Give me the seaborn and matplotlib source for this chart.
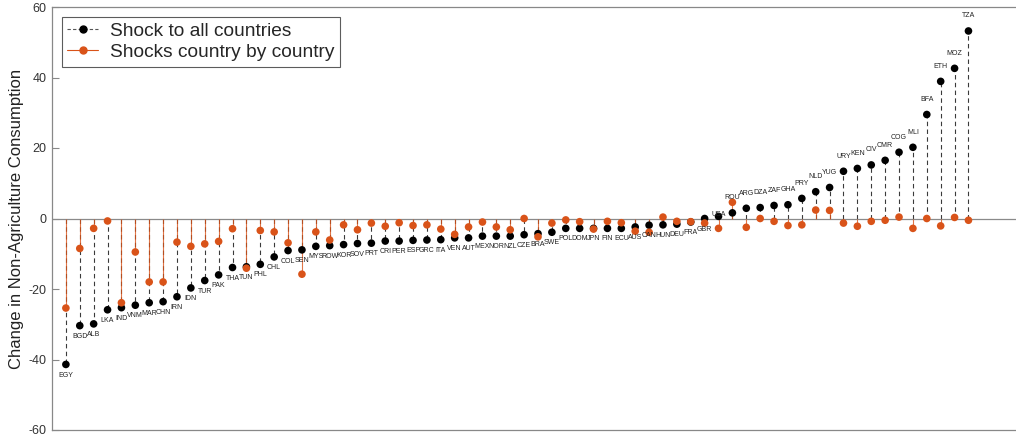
import numpy as np
import pandas as pd
import matplotlib
matplotlib.use("Agg")
import matplotlib.pyplot as plt
import seaborn as sns
from matplotlib.lines import Line2D
from matplotlib.legend_handler import HandlerLine2D

# countries sorted by the effect of the common shock
countries = ["EGY", "BGD", "ALB", "LKA", "IND", "VNM", "MAR", "CHN", "IRN", "IDN",
             "TUR", "PAK", "THA", "TUN", "PHL", "CHL", "COL", "SEN", "MYS", "ROW",
             "KOR", "SOV", "PRT", "CRI", "PER", "ESP", "GRC", "ITA", "VEN", "AUT",
             "MEX", "NOR", "NZL", "CZE", "BRA", "SWE", "POL", "DOM", "JPN", "FIN",
             "ECU", "AUS", "CAN", "HUN", "DEU", "FRA", "GBR", "USA", "ROU", "ARG",
             "DZA", "ZAF", "GHA", "PRY", "NLD", "YUG", "URY", "KEN", "CIV", "CMR",
             "COG", "MLI", "BFA", "ETH", "MOZ", "TZA"]

shock_all = [-41.4, -30.4, -29.9, -25.9, -25.3, -24.6, -23.9, -23.6, -22.2, -19.7,
             -17.6, -16.0, -13.9, -13.7, -13.0, -10.9, -9.1, -8.9, -7.9, -7.7,
             -7.4, -7.1, -7.0, -6.4, -6.4, -6.2, -6.1, -6.0, -5.5, -5.5,
             -5.0, -5.0, -5.0, -4.6, -4.3, -3.9, -2.8, -2.8, -2.8, -2.8,
             -2.8, -2.4, -1.9, -1.8, -1.6, -1.0, 0.0, 0.6, 1.6, 2.9,
             3.1, 3.7, 3.9, 5.7, 7.6, 8.8, 13.4, 14.2, 15.2, 16.5,
             18.8, 20.2, 29.5, 38.9, 42.6, 53.2]

shock_each = [-25.4, -8.5, -2.8, -0.7, -23.9, -9.5, -18.0, -18.0, -6.7, -7.9,
              -7.2, -6.5, -2.9, -14.1, -3.4, -3.8, -6.9, -15.8, -3.8, -6.1,
              -1.8, -3.2, -1.3, -2.2, -1.2, -2.0, -1.8, -3.0, -4.5, -2.4,
              -1.0, -2.4, -3.2, 0.0, -5.2, -1.3, -0.4, -0.9, -3.0, -0.8,
              -1.2, -3.6, -3.9, 0.4, -0.8, -0.9, -1.3, -2.8, 4.6, -2.5,
              0.0, -0.8, -2.0, -1.8, 2.4, 2.3, -1.3, -2.2, -0.8, -0.5,
              0.4, -2.8, 0.0, -2.1, 0.3, -0.5]

series_labels = ["Shock to all countries", "Shocks country by country"]

ORANGE = "#D95319"


class EndMarkerHandler(HandlerLine2D):
    # marker at the right end of the legend line, like matlab stem legends
    def get_xdata(self, legend, xdescent, ydescent, width, height, fontsize):
        return [-xdescent, -xdescent + width], [-xdescent + width - 1]


df = pd.DataFrame({"pos": np.arange(1, len(countries) + 1),
                   "country": countries,
                   "all": shock_all,
                   "each": shock_each})
long = df.melt(id_vars=["pos", "country"], value_vars=["all", "each"],
               var_name="series", value_name="change")

sns.set_theme(style="white")
plt.rcParams["font.family"] = ["Liberation Sans", "DejaVu Sans"]
plt.rcParams["axes.unicode_minus"] = False

fig = plt.figure(figsize=(10.16, 4.38), dpi=100)
ax = fig.add_axes([52 / 1016, 8 / 438, 972 / 1016, 423 / 438])

# stems
ax.vlines(df["pos"], 0, df["all"], colors="#3a3a3a", linestyles=(0, (4, 3)),
          linewidth=0.8, zorder=1)
ax.vlines(df["pos"], 0, df["each"], colors=ORANGE, linewidth=0.8, alpha=0.8, zorder=2)
ax.axhline(0, color="#8a8a8a", linewidth=0.9, zorder=1.5)

sns.scatterplot(data=long, x="pos", y="change", hue="series",
                palette={"all": "black", "each": ORANGE}, s=30, linewidth=0,
                legend=False, ax=ax, zorder=3)

# country codes next to the black dots
for p, c, v in zip(df["pos"], df["country"], df["all"]):
    if v > 1:
        y = v + 4.3
    elif v > 0:
        y = v + 0.5
    else:
        y = v - 3.0
    ax.text(p, y, c, ha="center", va="center", fontsize=5, color="#222222")

ax.set_xlim(0, 70)
ax.set_ylim(-60, 60)
ax.set_yticks(range(-60, 61, 20))
ax.set_xticks([])
ax.set_xlabel("")
ax.set_ylabel("Change in Non-Agriculture Consumption", fontsize=12, color="#222222",
              labelpad=3)
ax.tick_params(axis="y", direction="in", length=5, width=0.8, color="#888888",
               labelsize=9, labelcolor="#333333", pad=4, left=True)
for side in ["left", "bottom", "top", "right"]:
    ax.spines[side].set_color("#888888")
    ax.spines[side].set_linewidth(0.9)

h_all = Line2D([], [], color="#555555", linestyle=(0, (3, 2)), linewidth=0.8,
               marker="o", markersize=5, markerfacecolor="black", markeredgecolor="black")
h_each = Line2D([], [], color=ORANGE, linewidth=0.8, marker="o", markersize=5,
                markerfacecolor=ORANGE, markeredgecolor=ORANGE)
leg = ax.legend([h_all, h_each], series_labels, loc="upper left", fontsize=13.8,
                handler_map={Line2D: EndMarkerHandler()}, frameon=True, fancybox=False,
                handlelength=1.6, handletextpad=0.6, labelspacing=0.2,
                borderpad=0.3, borderaxespad=0.5)
leg.get_frame().set_edgecolor("#333333")
leg.get_frame().set_linewidth(0.8)

fig.savefig("out.png", dpi=100)
